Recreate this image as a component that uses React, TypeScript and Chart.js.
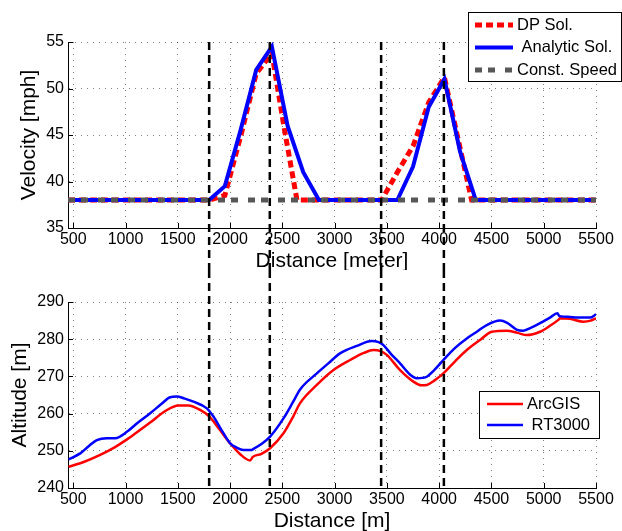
import React, { useEffect, useRef } from 'react';
import { Chart, registerables } from 'chart.js';

Chart.register(...registerables);

const FONT = "'Liberation Sans', Arial, Helvetica, sans-serif";
const GRID = 'rgba(0,0,0,0.5)';

// tick labels
const distanceTicks = [500, 1000, 1500, 2000, 2500, 3000, 3500, 4000, 4500, 5000, 5500];
const velocityTicks = [35, 40, 45, 50, 55];
const altitudeTicks = [240, 250, 260, 270, 280, 290];
const switchDistances = [1800, 2380, 3445, 4045];

// top plot: velocity
const dpDistance = [450, 1800, 1950, 2100, 2250, 2400, 2520, 2640, 3450, 3600, 3750, 3900, 4050, 4200, 4310, 5500];
const dpVelocity = [38, 38, 38.5, 44.8, 51.6, 53.8, 45.6, 38, 38, 41, 43.8, 48.5, 51.2, 43.6, 38, 38];

const analyticDistance = [450, 1800, 1950, 2100, 2250, 2400, 2550, 2700, 2850, 3600, 3750, 3900, 4050, 4200, 4350, 5500];
const analyticVelocity = [38, 38, 39.5, 45.5, 52, 54.5, 46, 41, 38, 38, 41.6, 48, 51, 43.2, 38, 38];

const constDistance = [450, 5500];
const constVelocity = [38, 38];

// bottom plot: altitude
const arcgisDistance = [455, 600, 758, 900, 1000, 1100, 1236, 1380, 1507, 1600, 1714, 1803, 1900, 2001, 2100, 2192, 2215, 2300, 2383, 2511, 2600, 2670, 2830, 2989, 3148, 3280, 3371, 3440, 3499, 3626, 3754, 3830, 3881, 3950, 4040, 4150, 4264, 4400, 4503, 4646, 4750, 4838, 4965, 5060, 5140, 5156, 5250, 5379, 5450, 5500];
const arcgisAltitude = [245.7, 247, 248.9, 251, 252.8, 254.8, 257.6, 260.7, 262.2, 262.2, 261, 259.2, 255.7, 252, 249, 247.4, 248.3, 249.2, 250.7, 254.7, 259, 262.8, 267.7, 271.7, 274.4, 276.3, 277.1, 276.8, 275.8, 271.7, 268.6, 267.6, 267.7, 268.8, 270.8, 274, 277.1, 280, 282, 282.3, 281.7, 281.1, 282, 283.6, 285.2, 285.6, 285.5, 284.7, 285, 285.6];

const rt3000Distance = [455, 567, 650, 726, 822, 902, 1013, 1120, 1236, 1340, 1427, 1491, 1560, 1650, 1778, 1841, 1920, 2001, 2060, 2128, 2200, 2224, 2300, 2383, 2511, 2600, 2670, 2830, 2940, 3052, 3212, 3355, 3420, 3467, 3540, 3626, 3720, 3786, 3840, 3881, 3950, 4040, 4150, 4264, 4360, 4455, 4582, 4650, 4740, 4806, 4880, 4965, 5060, 5131, 5150, 5250, 5315, 5443, 5500];
const rt3000Altitude = [247.7, 249.3, 251.3, 252.9, 253.4, 253.4, 255.1, 257.6, 260.1, 262.5, 264.4, 264.6, 264.1, 263.2, 261.4, 259.2, 255.5, 252, 250.9, 250.2, 250.2, 250.5, 251.8, 253.8, 258.7, 263, 266.5, 270.8, 273.5, 276.2, 278.2, 279.5, 279.2, 278.4, 276, 273.5, 270.5, 269.5, 269.6, 269.9, 271.6, 274.4, 277.6, 280.2, 282, 283.8, 285, 284.4, 282.6, 282.3, 283.1, 284.3, 285.8, 287, 286.2, 286, 285.8, 285.8, 286.7];

const pts = (xs: number[], ys: number[]) => xs.map((x, i) => ({ x, y: ys[i] }));

const switchLinesPlugin = (span: 'top' | 'bottom') => ({
  id: 'switchLines',
  afterDraw(chart: any) {
    const { ctx, chartArea, scales } = chart;
    const y0 = span === 'top' ? chartArea.top : 0;
    const y1 = span === 'top' ? chart.height : chartArea.bottom;
    ctx.save();
    ctx.strokeStyle = '#000';
    ctx.lineWidth = 2.5;
    ctx.setLineDash([8, 5]);
    switchDistances.forEach((d) => {
      const px = scales.x.getPixelForValue(d);
      ctx.beginPath();
      ctx.moveTo(px, y0);
      ctx.lineTo(px, y1);
      ctx.stroke();
    });
    ctx.restore();
  },
});

const inwardTicksPlugin = {
  id: 'inwardTicks',
  afterDraw(chart: any) {
    const { ctx, chartArea, scales } = chart;
    ctx.save();
    ctx.strokeStyle = '#000';
    ctx.lineWidth = 1;
    ctx.setLineDash([]);
    ctx.beginPath();
    scales.x.ticks.forEach((t: any) => {
      const px = Math.round(scales.x.getPixelForValue(t.value)) + 0.5;
      ctx.moveTo(px, chartArea.bottom);
      ctx.lineTo(px, chartArea.bottom - 5);
    });
    scales.y.ticks.forEach((t: any) => {
      const py = Math.round(scales.y.getPixelForValue(t.value)) + 0.5;
      ctx.moveTo(chartArea.left, py);
      ctx.lineTo(chartArea.left + 5, py);
    });
    ctx.stroke();
    ctx.restore();
  },
};

const boxLegendPlugin = (b: { x: number; y: number; w: number; h: number; firstY: number; rowH: number; lx0: number; lx1: number; tx: number }) => ({
  id: 'boxLegend',
  afterDraw(chart: any) {
    const ctx = chart.ctx;
    ctx.save();
    ctx.setLineDash([]);
    ctx.fillStyle = '#fff';
    ctx.fillRect(b.x, b.y, b.w, b.h);
    ctx.strokeStyle = '#000';
    ctx.lineWidth = 1;
    ctx.strokeRect(b.x + 0.5, b.y + 0.5, b.w, b.h);
    chart.data.datasets.forEach((ds: any, i: number) => {
      const cy = b.firstY + i * b.rowH;
      ctx.beginPath();
      ctx.strokeStyle = ds.borderColor;
      ctx.lineWidth = ds.borderWidth;
      ctx.lineCap = 'butt';
      ctx.setLineDash(ds.borderDash || []);
      ctx.moveTo(b.lx0, cy);
      ctx.lineTo(b.lx1, cy);
      ctx.stroke();
      ctx.setLineDash([]);
      ctx.fillStyle = '#000';
      ctx.font = `16.5px ${FONT}`;
      ctx.textBaseline = 'middle';
      ctx.textAlign = 'left';
      ctx.fillText(ds.label, b.tx, cy);
    });
    ctx.restore();
  },
});

const axisFont = { family: FONT, size: 16 };
const titleFont = { family: FONT, size: 21, lineHeight: 1 };

const xScale = (title: string, height: number, titlePadBottom: number) => ({
  type: 'linear',
  min: 450,
  max: 5500,
  afterBuildTicks: (s: any) => {
    s.ticks = distanceTicks.map((v) => ({ value: v }));
  },
  afterFit: (s: any) => {
    s.height = height;
  },
  grid: { color: GRID, lineWidth: 1, drawTicks: false },
  border: { display: true, color: '#000', width: 1, dash: [1, 5] },
  ticks: { color: '#000', font: axisFont, padding: 2, maxRotation: 0, autoSkip: false, callback: (v: any) => String(v) },
  title: { display: true, text: title, color: '#000', font: { ...titleFont, lineHeight: 0.8 }, padding: { top: 0, bottom: titlePadBottom } },
});

const yScale = (title: string, min: number, max: number, ticks: number[], titlePad: number) => ({
  type: 'linear',
  min,
  max,
  afterBuildTicks: (s: any) => {
    s.ticks = ticks.map((v) => ({ value: v }));
  },
  afterFit: (s: any) => {
    s.width = 68;
  },
  grid: { color: GRID, lineWidth: 1, drawTicks: false },
  border: { display: true, color: '#000', width: 1, dash: [1, 5] },
  ticks: { color: '#000', font: axisFont, padding: 4, autoSkip: false, callback: (v: any) => String(v) },
  title: { display: true, text: title, color: '#000', font: titleFont, padding: { top: titlePad, bottom: 0 } },
});

export default function App() {
  const topRef = useRef<HTMLCanvasElement>(null);
  const bottomRef = useRef<HTMLCanvasElement>(null);

  useEffect(() => {
    const top = new Chart(topRef.current as HTMLCanvasElement, {
      type: 'line',
      data: {
        datasets: [
          { label: 'DP Sol.', data: pts(dpDistance, dpVelocity), borderColor: '#ff0000', borderWidth: 5, borderDash: [7, 4], pointRadius: 0, tension: 0, order: 2, borderCapStyle: 'butt' },
          { label: ' Analytic Sol.', data: pts(analyticDistance, analyticVelocity), borderColor: '#0000ff', borderWidth: 4, pointRadius: 0, tension: 0, order: 1 },
          { label: 'Const. Speed', data: pts(constDistance, constVelocity), borderColor: '#575757', borderWidth: 5, borderDash: [7, 6, 7, 10], pointRadius: 0, tension: 0, order: 0, borderCapStyle: 'butt' },
        ],
      } as any,
      options: {
        responsive: false,
        animation: false,
        layout: { padding: { top: 42, right: 26, left: 0, bottom: 0 } },
        plugins: { legend: { display: false }, tooltip: { enabled: false } },
        scales: {
          x: xScale('Distance [meter]', 42, 0),
          y: yScale('Velocity [mph]', 35, 55, velocityTicks, 19),
        },
      } as any,
      plugins: [
        inwardTicksPlugin,
        switchLinesPlugin('top'),
        boxLegendPlugin({ x: 468, y: 12, w: 153, h: 69, firstY: 25, rowH: 22.5, lx0: 475, lx1: 513, tx: 517 }),
      ] as any,
    });

    const bottom = new Chart(bottomRef.current as HTMLCanvasElement, {
      type: 'line',
      data: {
        datasets: [
          { label: 'ArcGIS', data: pts(arcgisDistance, arcgisAltitude), borderColor: '#ff0000', borderWidth: 2.5, pointRadius: 0, cubicInterpolationMode: 'monotone', order: 1 },
          { label: ' RT3000', data: pts(rt3000Distance, rt3000Altitude), borderColor: '#0000ff', borderWidth: 2.5, pointRadius: 0, cubicInterpolationMode: 'monotone', order: 0 },
        ],
      } as any,
      options: {
        responsive: false,
        animation: false,
        layout: { padding: { top: 32, right: 26, left: 0, bottom: 0 } },
        plugins: { legend: { display: false }, tooltip: { enabled: false } },
        scales: {
          x: xScale('Distance [m]', 43, 1.6),
          y: yScale('Altitude [m]', 240, 290, altitudeTicks, 9.5),
        },
      } as any,
      plugins: [
        inwardTicksPlugin,
        switchLinesPlugin('bottom'),
        boxLegendPlugin({ x: 479, y: 121, w: 120, h: 47, firstY: 134, rowH: 21, lx0: 487, lx1: 523, tx: 527 }),
      ] as any,
    });

    return () => {
      top.destroy();
      bottom.destroy();
    };
  }, []);

  return (
    <div style={{ position: 'absolute', left: 0, top: 0, width: 622, height: 531, background: '#fff' }}>
      <canvas ref={topRef} width={622} height={270} style={{ display: 'block', width: 622, height: 270 }} />
      <canvas ref={bottomRef} width={622} height={261} style={{ display: 'block', width: 622, height: 261 }} />
    </div>
  );
}
